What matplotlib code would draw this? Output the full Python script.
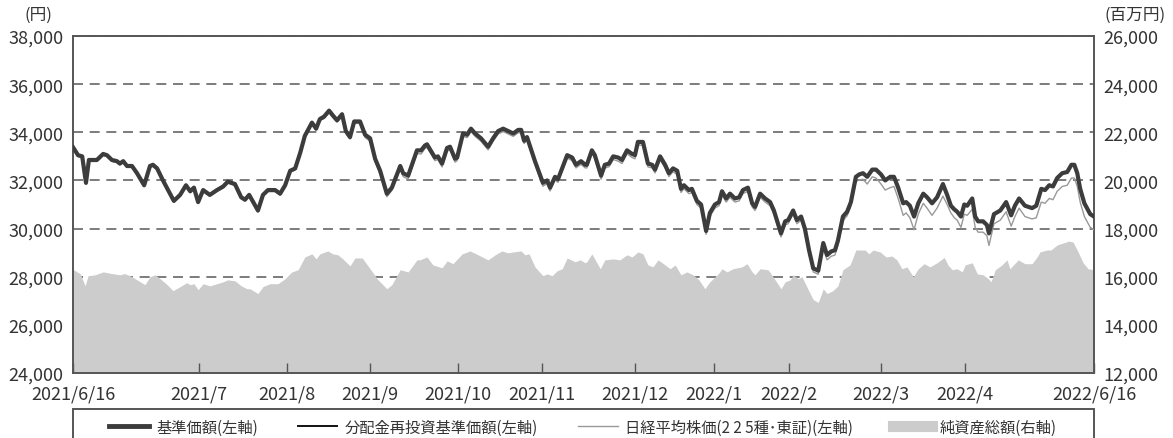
import matplotlib
matplotlib.use("Agg")
import matplotlib.pyplot as plt
from matplotlib.lines import Line2D
from matplotlib.patches import Rectangle

plt.rcParams['font.family'] = ['Noto Sans CJK JP', 'DejaVu Sans']

# trading-day index (0 = 2021/6/16, 244 = 2022/6/16)
nav_days = [0.0, 1.2, 2.2, 3.1, 3.8, 5.7, 7.2, 8.1, 9.3, 10.5, 11.2, 12.0, 12.9, 14.1, 15.3, 17.0,
            18.4, 19.1, 20.1, 21.5, 24.1, 25.6, 27.0, 28.0, 28.9, 29.9, 31.1, 32.7, 34.4, 35.9,
            37.0, 38.7, 40.2, 41.1, 42.1, 44.2, 45.4, 46.6, 48.3, 49.5, 50.7, 51.9, 53.1, 54.3,
            55.4, 57.1, 58.1, 59.0, 60.0, 61.2, 62.1, 63.1, 64.3, 65.2, 66.2, 67.2, 68.6, 69.8,
            71.0, 72.2, 73.4, 75.0, 76.2, 78.2, 78.9, 80.1, 82.2, 83.2, 84.1, 84.6, 86.5, 87.2,
            88.2, 89.4, 90.1, 91.3, 91.8, 93.2, 94.2, 95.1, 96.1, 97.5, 99.2, 100.4, 101.6, 102.8,
            104.0, 105.2, 106.4, 107.1, 107.8, 108.5, 110.4, 112.3, 113.3, 114.0, 115.2, 115.9,
            118.1, 119.3, 120.2, 121.4, 122.4, 122.8, 124.0, 124.7, 126.2, 127.1, 128.1, 129.1,
            130.3, 131.2, 132.4, 133.6, 134.3, 135.0, 136.2, 137.4, 138.4, 139.1, 140.3, 141.5,
            142.4, 143.4, 144.4, 145.3, 146.0, 147.2, 147.9, 149.1, 150.1, 151.3, 152.2, 153.4,
            154.4, 155.1, 156.1, 157.0, 158.2, 159.2, 160.1, 161.3, 162.3, 163.0, 164.2, 165.4,
            166.6, 167.5, 169.2, 170.2, 170.9, 172.1, 173.0, 174.0, 174.9, 175.9, 176.9, 178.1,
            179.3, 180.2, 181.2, 182.1, 182.8, 184.0, 185.0, 185.9, 187.1, 187.9, 188.8, 189.8,
            191.0, 191.9, 193.1, 194.1, 195.3, 196.2, 197.2, 198.4, 199.1, 200.0, 201.0, 202.0,
            203.2, 204.1, 205.3, 206.5, 207.9, 208.9, 209.8, 210.6, 211.3, 212.2, 213.0, 213.7,
            214.9, 215.6, 216.3, 217.5, 218.4, 218.9, 220.1, 221.6, 223.0, 224.2, 225.1, 226.1,
            227.5, 229.2, 230.2, 231.4, 232.3, 233.3, 234.2, 235.2, 236.4, 237.6, 238.6, 239.3,
            240.0, 240.7, 241.7, 243.1, 244.0]

# 基準価額 (円)
nav = [33380, 33050, 33000, 31900, 32850, 32850, 33100, 33050, 32850, 32800, 32700, 32800, 32600,
       32600, 32300, 31800, 32600, 32650, 32500, 32000, 31150, 31400, 31800, 31550, 31700, 31100,
       31600, 31400, 31600, 31750, 31950, 31850, 31300, 31200, 31400, 30750, 31400, 31600, 31600,
       31450, 31800, 32400, 32500, 33150, 33850, 34400, 34150, 34550, 34650, 34900, 34700, 34500,
       34750, 34050, 33800, 34450, 34450, 33900, 33750, 32900, 32400, 31450, 31700, 32600, 32300,
       32200, 33250, 33250, 33450, 33500, 32950, 33000, 32700, 33350, 33400, 32900, 32950, 33950,
       33900, 34150, 33950, 33750, 33400, 33750, 34050, 34150, 34050, 33950, 34100, 34100, 33650,
       33800, 32800, 31900, 32000, 31700, 32150, 32050, 33050, 32950, 32650, 32800, 32650, 32650,
       33250, 33050, 32200, 32650, 32700, 33000, 32950, 32850, 33250, 33100, 33050, 33600, 33600,
       32700, 32650, 32450, 33000, 32650, 32300, 32500, 32400, 31650, 31800, 31600, 31650, 31150,
       31000, 29900, 30650, 31000, 31100, 31550, 31250, 31450, 31250, 31300, 31600, 31700, 31050,
       30900, 31450, 31250, 31100, 30750, 29800, 30300, 30350, 30750, 30350, 30500, 30000, 29100,
       28350, 28250, 29400, 28900, 29050, 29100, 29500, 30500, 30700, 31100, 32150, 32250, 32300,
       32150, 32450, 32450, 32250, 32000, 32150, 32150, 31700, 31050, 31100, 30950, 30500, 31050,
       31450, 31300, 31050, 31300, 31850, 31400, 30950, 30800, 30700, 30500, 31000, 30950, 31250,
       30500, 30300, 30300, 30150, 29800, 30600, 30750, 31100, 30550, 30950, 31250, 30950, 30850,
       30950, 31650, 31600, 31800, 31750, 32100, 32300, 32350, 32650, 32650, 32300, 31650, 31050,
       30600, 30500]

# 分配金再投資基準価額 (円): no distribution in the period, the line lies under 基準価額
reinvest_nav = list(nav)

# 日経平均株価 (円)
nikkei = [33320, 32990, 32940, 31840, 32790, 32790, 33040, 32990, 32790, 32740, 32640, 32740, 32540,
          32540, 32240, 31740, 32540, 32590, 32440, 31940, 31090, 31340, 31740, 31490, 31640, 31040,
          31540, 31340, 31540, 31690, 31890, 31790, 31240, 31140, 31340, 30690, 31340, 31540, 31540,
          31390, 31740, 32340, 32440, 33090, 33790, 34340, 34090, 34490, 34570, 34820, 34620, 34420,
          34670, 33970, 33720, 34370, 34370, 33780, 33630, 32780, 32280, 31320, 31580, 32480, 32160,
          32060, 33120, 33100, 33320, 33370, 32820, 32870, 32560, 33220, 33270, 32760, 32820, 33830,
          33780, 34030, 33830, 33630, 33270, 33630, 33930, 34030, 33930, 33830, 33980, 33980, 33530,
          33680, 32680, 31760, 31870, 31560, 32020, 31920, 32930, 32820, 32520, 32670, 32520, 32520,
          33130, 32920, 32050, 32510, 32570, 32870, 32800, 32700, 33110, 32950, 32900, 33470, 33460,
          32560, 32520, 32310, 32860, 32510, 32160, 32360, 32250, 31500, 31660, 31450, 31500, 31000,
          30850, 29760, 30500, 30850, 30950, 31400, 31100, 31300, 31100, 31150, 31450, 31550, 30900,
          30750, 31300, 31100, 30950, 30600, 29650, 30150, 30200, 30600, 30200, 30350, 29850, 28950,
          28200, 28100, 29200, 28700, 28850, 28900, 29320, 30330, 30530, 30930, 31950, 32020, 32050,
          31850, 32150, 32100, 31850, 31600, 31700, 31750, 31250, 30550, 30650, 30450, 29950, 30600,
          31050, 30850, 30550, 30850, 31350, 31000, 30650, 30450, 30350, 30050, 30600, 30550, 30800,
          30050, 29850, 29850, 29700, 29300, 30200, 30350, 30700, 30100, 30500, 30850, 30500, 30400,
          30450, 31100, 31050, 31250, 31200, 31550, 31750, 31800, 32100, 32100, 31750, 31100, 30500,
          30050, 29950]

asset_days = [0.0, 1.7, 2.9, 3.6, 5.3, 7.2, 9.3, 11.2, 12.4, 14.1, 15.3, 17.2, 18.4, 19.6, 20.8,
              22.5, 23.9, 25.6, 27.2, 28.0, 28.9, 29.9, 31.1, 32.7, 34.4, 35.9, 37.0, 38.7, 40.2,
              41.6, 42.3, 44.2, 45.4, 47.1, 49.0, 50.7, 52.3, 53.8, 55.4, 57.1, 58.1, 59.0, 60.9,
              62.1, 63.3, 64.5, 66.2, 67.4, 69.1, 71.0, 72.9, 75.0, 76.2, 78.2, 80.1, 82.2, 82.9,
              84.6, 86.0, 88.2, 89.4, 90.8, 93.0, 94.9, 96.8, 99.2, 100.9, 102.5, 104.0, 105.2,
              107.1, 108.0, 109.0, 110.4, 112.3, 113.3, 114.5, 115.7, 116.9, 118.1, 120.0, 121.2,
              122.4, 122.8, 124.0, 126.0, 127.1, 129.1, 130.7, 132.4, 133.6, 135.0, 136.2, 137.4,
              138.6, 139.8, 141.5, 142.7, 143.9, 145.3, 146.7, 148.2, 149.6, 151.0, 152.2, 154.2,
              155.1, 156.3, 157.7, 159.9, 161.1, 162.3, 163.0, 164.2, 166.1, 167.8, 169.2, 170.2,
              171.4, 172.1, 173.3, 174.2, 175.7, 176.9, 178.1, 179.3, 180.2, 181.6, 182.8, 184.0,
              185.7, 187.1, 188.3, 189.3, 190.2, 191.2, 192.9, 194.3, 195.7, 196.9, 198.1, 199.3,
              200.8, 202.0, 203.4, 204.8, 206.5, 208.2, 209.1, 210.1, 211.3, 212.5, 213.2, 214.9,
              216.1, 217.5, 218.7, 219.4, 220.4, 222.0, 223.2, 223.9, 225.9, 227.5, 229.2, 230.4,
              231.1, 232.8, 233.7, 235.2, 236.6, 238.0, 239.0, 240.2, 241.4, 242.6, 244.0]

# 純資産総額 (百万円)
assets = [16300, 16130, 15620, 16040, 16080, 16200, 16130, 16080, 16130, 16000, 15870, 15670, 16000,
          16080, 15920, 15670, 15420, 15590, 15750, 15670, 15710, 15460, 15710, 15620, 15710, 15790,
          15870, 15830, 15620, 15500, 15500, 15300, 15590, 15710, 15710, 15920, 16200, 16290, 16820,
          16950, 16740, 16950, 17070, 16950, 16910, 16740, 16450, 16780, 16780, 16330, 15870, 15500,
          15670, 16290, 16200, 16700, 16700, 16820, 16490, 16370, 16660, 16540, 16950, 17070, 16910,
          16700, 16910, 17070, 16990, 17030, 17070, 16910, 16950, 16410, 16040, 16120, 16040, 16250,
          16330, 16780, 16620, 16700, 16580, 16620, 16950, 16330, 16700, 16740, 16700, 16910, 16820,
          17030, 16950, 16490, 16410, 16700, 16490, 16330, 16490, 16080, 16200, 16080, 15870, 15500,
          15790, 16120, 16330, 16200, 16330, 16410, 16540, 16200, 16080, 16330, 16290, 15870, 15500,
          15790, 15870, 16080, 15920, 16000, 15460, 15050, 14930, 15500, 15300, 15420, 15620, 16290,
          16490, 17110, 17110, 17110, 16950, 17110, 17030, 16820, 16860, 16700, 16330, 16410, 16000,
          16330, 16540, 16410, 16580, 16800, 16490, 16290, 16330, 16200, 16490, 16580, 16120, 16080,
          15920, 15790, 16290, 16490, 16700, 16330, 16700, 16540, 16540, 16820, 17030, 17110, 17110,
          17320, 17400, 17480, 17440, 17030, 16580, 16330, 16290]

tick_days = [0, 30.1, 51.1, 71.0, 92.0, 112.1, 134.3, 153.2, 171.1, 193.1, 213.2, 244]
tick_labels = ['2021/6/16', '2021/7', '2021/8', '2021/9', '2021/10', '2021/11', '2021/12',
               '2022/1', '2022/2', '2022/3', '2022/4', '2022/6/16']

frame = '#555555'
text_c = '#333333'
W, H = 1173, 439

fig = plt.figure(figsize=(W / 100, H / 100), dpi=100)
ax = fig.add_axes([73 / W, 1 - 374 / H, (1094 - 73) / W, (374 - 37) / H])
ax2 = ax.twinx()
ax.set_zorder(ax2.get_zorder() + 1)
ax.patch.set_visible(False)

# net assets area on the right axis, grid drawn beneath it
ax2.fill_between(asset_days, 12000, assets, color='#cccccc', lw=0, zorder=2)
ax2.set_ylim(12000, 26000)
ax2.set_yticks(range(12000, 26001, 2000))
ax2.set_yticklabels([f'{v:,}' for v in range(12000, 26001, 2000)])
ax2.set_axisbelow(True)
ax2.yaxis.grid(True, color='#666666', lw=1.2, ls=(0, (6, 4)))

ax.plot(nav_days, nikkei, color='#999999', lw=1.0, zorder=3)
ax.plot(nav_days, reinvest_nav, color='#111111', lw=1.2, zorder=4)
ax.plot(nav_days, nav, color='#3c3c3c', lw=3.0, zorder=5, solid_joinstyle='round')

ax.set_xlim(0, 244)
ax.set_ylim(24000, 38000)
ax.set_yticks(range(24000, 38001, 2000))
ax.set_yticklabels([f'{v:,}' for v in range(24000, 38001, 2000)])
ax.set_xticks(tick_days)
ax.set_xticklabels(tick_labels)

for a in (ax, ax2):
    for s in a.spines.values():
        s.set_color(frame)
        s.set_linewidth(1.2)
ax.tick_params(axis='y', length=0, pad=7, labelsize=13, labelcolor=text_c)
ax2.tick_params(axis='y', length=0, pad=7, labelsize=13, labelcolor=text_c)
ax.tick_params(axis='x', direction='in', length=7, width=1.0, color=frame, pad=8,
               labelsize=13, labelcolor=text_c)

fig.text(38 / W, 1 - 15 / H, '(円)', ha='center', va='center', fontsize=12, color=text_c)
fig.text(1135 / W, 1 - 15 / H, '(百万円)', ha='center', va='center', fontsize=12, color=text_c)

# legend box runs past the bottom edge of the picture
fig.patches.append(Rectangle((73 / W, 1 - 450 / H), (1094 - 73) / W, (450 - 410) / H,
                             transform=fig.transFigure, fill=False, edgecolor=frame, lw=1.4))
handles = [Line2D([], [], color='#3c3c3c', lw=3.5),
           Line2D([], [], color='#111111', lw=1.4),
           Line2D([], [], color='#999999', lw=1.0),
           Line2D([], [], color='#cccccc', lw=8)]
labels = ['基準価額(左軸)', '分配金再投資基準価額(左軸)', '日経平均株価(2 2 5種･東証)(左軸)', '純資産総額(右軸)']
fig.legend(handles, labels, loc='center left', ncol=4, mode='expand',
           bbox_to_anchor=(109 / W, 1 - 428 / H, (1057 - 109) / W, 0),
           fontsize=11, frameon=False, handlelength=2.6, handletextpad=0.5,
           borderpad=0, borderaxespad=0, labelcolor=text_c)

fig.savefig('out.png', dpi=100)
